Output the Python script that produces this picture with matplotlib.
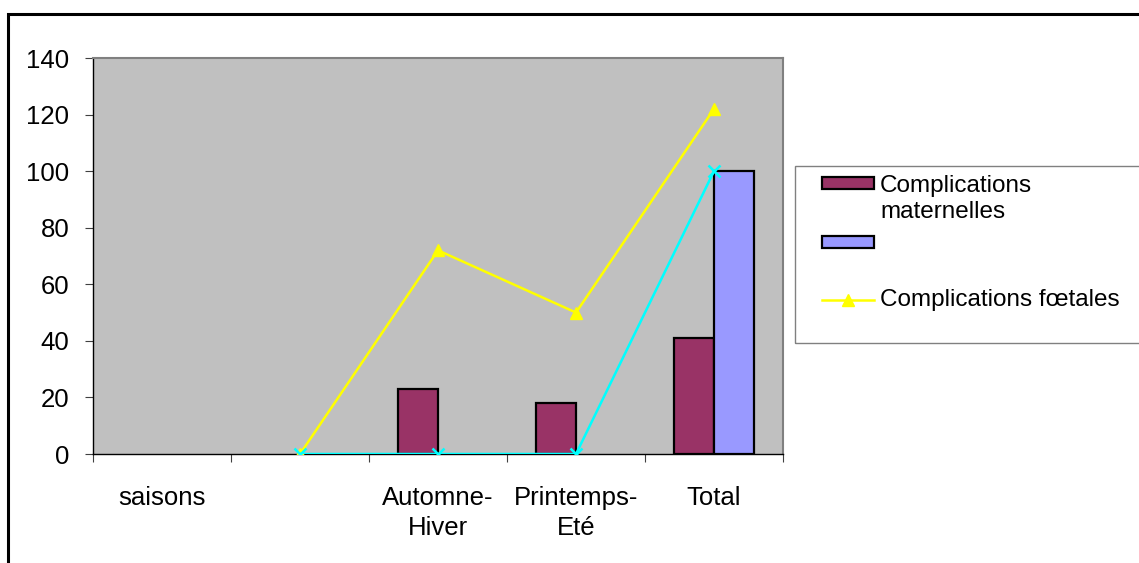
import numpy as np
import matplotlib
matplotlib.use("Agg")
import matplotlib.pyplot as plt
from matplotlib.patches import Rectangle
from matplotlib.lines import Line2D

plt.rcParams['font.family'] = ['Liberation Sans', 'DejaVu Sans']

# Data per season
categories = ["saisons", "", "Automne-\nHiver", "Printemps-\nEté", "Total"]
maternelles = [np.nan, np.nan, 23, 18, 41]
serie2 = [np.nan, np.nan, 0, 0, 100]
foetales = [np.nan, 0, 72, 50, 122]
serie4 = [np.nan, 0, 0, 0, 100]

maroon = '#993366'
lilac = '#9999FF'
yellow = '#FFFF00'
cyan = '#00FFFF'
fs_axis = 18.5
fs_leg = 17.5

W, H = 1139, 563
fig = plt.figure(figsize=(W / 100, H / 100), dpi=100)

# plot area in pixels: left 93, right 783, top 58, bottom 454
ax = fig.add_axes([93 / W, (H - 454) / H, 690 / W, 396 / H])
ax.set_facecolor('#C0C0C0')


def visible(vals):
    # zero-height bars are not drawn
    v = np.array(vals, dtype=float)
    return np.where(v > 0, v, np.nan)


x = np.arange(len(categories))
bw = 0.29
ax.bar(x - bw / 2, visible(maternelles), bw, color=maroon, edgecolor='black', linewidth=1.6, zorder=2)
ax.bar(x + bw / 2, visible(serie2), bw, color=lilac, edgecolor='black', linewidth=1.6, zorder=2)
ax.plot(x, foetales, color=yellow, lw=1.8, marker='^', ms=9, zorder=3)
ax.plot(x, serie4, color=cyan, lw=1.8, marker='x', ms=9, mew=1.8, zorder=4)

ax.set_xlim(-0.5, len(categories) - 0.5)
ax.set_ylim(0, 140)
ax.set_yticks(np.arange(0, 141, 20))
ax.tick_params(axis='y', direction='out', length=6, width=0.8, color='#404040',
               pad=11, labelsize=fs_axis)

# category boundaries as major ticks, labels on centres
ax.set_xticks(np.arange(-0.5, len(categories), 1.0))
ax.set_xticklabels([])
ax.tick_params(axis='x', which='major', direction='out', length=6, width=0.8, color='#404040')
ax.set_xticks(x, categories, minor=True)
ax.tick_params(axis='x', which='minor', length=0, pad=23, labelsize=fs_axis)
for lab in ax.get_xticklabels(minor=True):
    lab.set_linespacing(1.3)

for s in ['top', 'right']:
    ax.spines[s].set_color('#808080')
    ax.spines[s].set_linewidth(1.5)
for s in ['left', 'bottom']:
    ax.spines[s].set_color('black')
    ax.spines[s].set_linewidth(1.0)

# outer chart frame
fig.add_artist(Rectangle((8 / W, -0.05), 1.1, 1 - 14 / H + 0.05, transform=fig.transFigure,
                         fill=False, edgecolor='black', linewidth=2.2))

# legend box
fig.add_artist(Rectangle((795 / W, 1 - 343 / H), 1.0, (343 - 166) / H, transform=fig.transFigure,
                         fill=False, edgecolor='#808080', linewidth=1.0))


def fx(px):
    return px / W


def fy(py):
    return 1 - py / H


fig.add_artist(Rectangle((fx(822), fy(189)), 52 / W, 12 / H, transform=fig.transFigure,
                         facecolor=maroon, edgecolor='black', linewidth=1.6))
fig.text(fx(880), fy(199), "Complications\nmaternelles", fontsize=fs_leg, va='center',
         ha='left', linespacing=1.22)
fig.add_artist(Rectangle((fx(822), fy(248)), 52 / W, 12 / H, transform=fig.transFigure,
                         facecolor=lilac, edgecolor='black', linewidth=1.6))
fig.add_artist(Line2D([fx(822), fx(874)], [fy(300), fy(300)], transform=fig.transFigure,
                      color=yellow, lw=1.8))
fig.add_artist(Line2D([fx(848)], [fy(300)], transform=fig.transFigure, color=yellow,
                      marker='^', ms=9))
fig.text(fx(880), fy(300), "Complications fœtales", fontsize=fs_leg, va='center', ha='left')

fig.savefig('out.png', dpi=100)
